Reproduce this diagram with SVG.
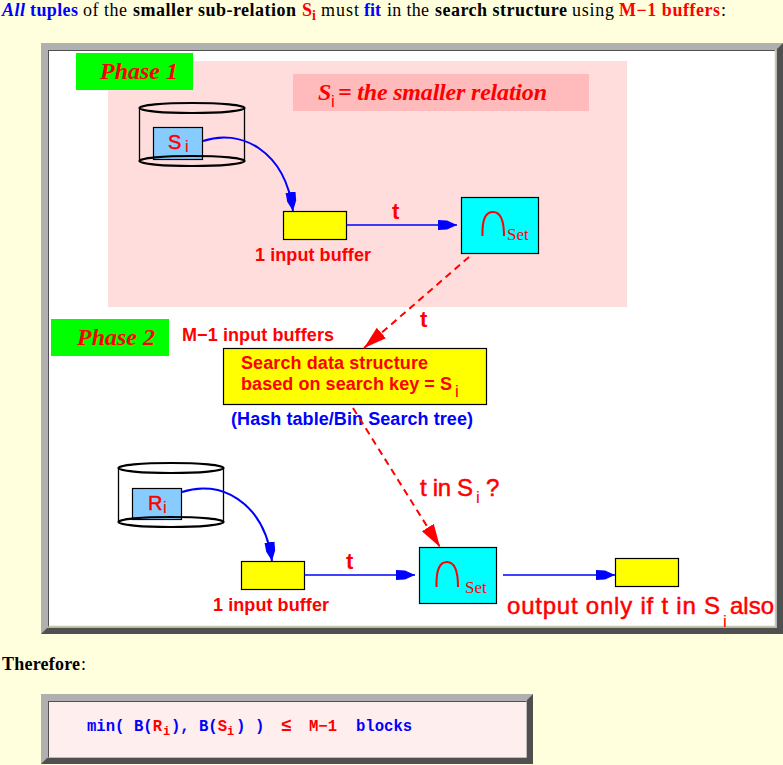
<svg xmlns="http://www.w3.org/2000/svg" width="783" height="765" viewBox="0 0 783 765">
<defs>
<marker id="ab" markerUnits="userSpaceOnUse" markerWidth="20" markerHeight="12" refX="19" refY="6" orient="auto"><path d="M0 1 L9 1.500 L19 6 L9 10.500 L0 11 Z" fill="#0000ff"/></marker>
<marker id="ar" markerUnits="userSpaceOnUse" markerWidth="24" markerHeight="16" refX="23" refY="8" orient="auto"><path d="M0 1 L23 8 L0 15 Z" fill="#ff0000"/></marker>
</defs>
<style>
text{font-family:"Liberation Sans",Arial,sans-serif;fill:#f00}
.t{font-family:"Liberation Serif","Times New Roman",serif;font-size:18px;fill:#000}
.b{font-weight:bold}
.blue{fill:#00f}.red{fill:#f00}
.lab{font-weight:bold;font-size:18px}
.big{font-size:24px;stroke:#f00;stroke-width:.5}
.sub{font-size:17px}
.ser{font-family:"Liberation Serif",serif;font-size:17px}
.ph{font-family:"Liberation Serif",serif;font-style:italic;font-weight:bold;font-size:24px}
.c{font-family:"Liberation Mono","Courier New",monospace;font-weight:bold;font-size:15.600px;fill:#00f}
.box{stroke:#000;stroke-width:1.2}
.cyl{fill:none;stroke:#000;stroke-width:1.3}
.cap{fill:none;stroke:#000;stroke-width:2.200}
.arc{fill:none;stroke:#f00;stroke-width:2}
.bl{fill:none;stroke:#00f;stroke-width:1.3}
.cv{fill:none;stroke:#00f;stroke-width:2}
.ds{fill:none;stroke:#f00;stroke-width:2;stroke-dasharray:7 5}
</style>
<rect width="783" height="765" fill="#ffffdd"/>
<g id="heading">
<text class="t b blue" x="2" y="16" font-style="italic" textLength="23">All</text>
<text class="t b blue" x="30" y="16" textLength="48">tuples</text>
<text class="t" x="83" y="16" textLength="44">of the</text>
<text class="t b" x="133" y="16" textLength="163">smaller sub-relation</text>
<text class="t b red" x="302" y="16">S</text><text class="t b red" x="312" y="20" style="font-size:14px">i</text>
<text class="t" x="321" y="16" textLength="38">must</text>
<text class="t b blue" x="364" y="16" textLength="17">fit</text>
<text class="t" x="387" y="16" textLength="42">in the</text>
<text class="t b" x="435" y="16" textLength="132">search structure</text>
<text class="t" x="572" y="16" textLength="42">using</text>
<text class="t b red" x="619" y="16" textLength="101">M−1 buffers</text>
<text class="t" x="721" y="16">:</text>
</g>
<g id="frame">
<polygon points="41,43 783,43 783,634 41,634" fill="#b0b0b0"/>
<polygon points="783,43 783,634 41,634 47,628 777,628 777,49" fill="#505050"/>
<rect x="48.500" y="50.500" width="727" height="576" fill="#fff" stroke="#505050"/>
<path d="M776 50.500H775.500V626.500H48.500" fill="none" stroke="#c8c8b0" stroke-width="1.500"/>
</g>
<g id="phase1-bg"><rect x="108" y="61" width="519" height="246" fill="#ffdddd"/></g>
<g id="phase1"><rect x="76" y="53" width="117" height="37" fill="#00ff00"/><text class="ph" x="100" y="79">Phase 1</text></g>
<g id="si-note"><rect x="293" y="74" width="296" height="37" fill="#ffbbbb"/><text class="ph" x="318" y="100">S</text><text class="sub" x="331" y="107">i</text><text class="ph" x="338" y="100" textLength="209">= the smaller relation</text></g>
<g id="cyl-s">
<path class="cyl" d="M139.500 108V161M244.500 108V161"/>
<rect x="153.500" y="127.500" width="49" height="32" fill="#88ccff" class="box"/>
<ellipse class="cap" cx="192" cy="108" rx="52.500" ry="5"/>
<ellipse class="cap" cx="192" cy="161" rx="52.500" ry="5"/>
<text class="big" x="168" y="149" style="font-size:20px">S</text><text class="sub" x="185" y="152">i</text>
</g>
<g id="buf1"><rect class="box" x="283.500" y="211.500" width="63" height="28" fill="#ffff00"/><text class="lab" x="255" y="261" textLength="116">1 input buffer</text></g>
<g id="set1"><rect class="box" x="461.500" y="197.500" width="77" height="56" fill="#00ffff"/><path class="arc" d="M482.500 236C482 218 486 212 493 212C500 212 504 218 504 236"/><text class="ser" x="507" y="240">Set</text></g>
<g id="search"><rect class="box" x="223.500" y="348.500" width="263" height="56" fill="#ffff00"/><text class="lab" x="241" y="369" textLength="187">Search data structure</text><text class="lab" x="241" y="390" textLength="211">based on search key = S</text><text class="sub" x="455" y="397">i</text></g>
<text class="lab blue" x="231" y="425" textLength="242">(Hash table/Bin Search tree)</text>
<g id="phase2"><rect x="51" y="319" width="118" height="37" fill="#00ff00"/><text class="ph" x="77" y="345">Phase 2</text></g>
<text class="lab" x="182" y="341" textLength="152">M−1 input buffers</text>
<g id="cyl-r">
<path class="cyl" d="M118.500 468V522M223.500 468V522"/>
<rect x="132.500" y="488.500" width="49" height="31" fill="#88ccff" class="box"/>
<ellipse class="cap" cx="171" cy="468" rx="52.500" ry="5"/>
<ellipse class="cap" cx="171" cy="522" rx="52.500" ry="5"/>
<text class="big" x="148" y="510" style="font-size:20px">R</text><text class="sub" x="163" y="513">i</text>
</g>
<g id="buf2"><rect class="box" x="241.500" y="561.500" width="63" height="28" fill="#ffff00"/><text class="lab" x="213" y="611" textLength="116">1 input buffer</text></g>
<g id="set2"><rect class="box" x="419.500" y="547.500" width="77" height="56" fill="#00ffff"/><path class="arc" d="M436.500 587C436 569 440 562 447 562C454 562 458 569 458 587"/><text class="ser" x="465" y="593">Set</text></g>
<g id="out"><rect class="box" x="615.500" y="558.500" width="63" height="28" fill="#ffff00"/></g>
<g id="connectors">
<path class="cv" marker-end="url(#ab)" d="M203 141C240 128 285 150 293 211"/>
<path class="bl" marker-end="url(#ab)" d="M346 225H457"/>
<path class="ds" marker-end="url(#ar)" d="M469 257L364 348"/>
<path class="ds" marker-end="url(#ar)" d="M353 408L440 547"/>
<path class="cv" marker-end="url(#ab)" d="M182 492C219 479 264 501 272 561"/>
<path class="bl" marker-end="url(#ab)" d="M304 575H415"/>
<path class="bl" marker-end="url(#ab)" d="M503 575H615"/>
</g>
<g id="labels">
<text class="lab" x="392" y="219" style="font-size:22px">t</text>
<text class="lab" x="420" y="327" style="font-size:22px">t</text>
<text class="lab" x="346" y="569" style="font-size:22px">t</text>
<text class="big" x="420" y="496" textLength="53">t in S</text><text class="sub" x="476" y="503">i</text><text class="big" x="486" y="496">?</text>
<text class="big" x="507" y="614" textLength="213">output only if t in S</text><text class="sub" x="723" y="627">i</text><text class="big" x="730" y="614" textLength="44">also</text>
</g>
<text class="t b" x="2" y="670" textLength="78">Therefore</text><text class="t" x="81" y="670">:</text>
<g id="formula">
<polygon points="41,694 533,694 533,764 41,764" fill="#b0b0b0"/>
<polygon points="533,694 533,764 41,764 47,758 527,758 527,700" fill="#505050"/>
<rect x="48.500" y="701.500" width="478" height="56" fill="#ffeeee" stroke="#505050"/>
<path d="M526.500 701.500V757.500H48.500" fill="none" stroke="#bbb"/>
<text class="c" y="731"><tspan x="87">min(</tspan><tspan x="134">B(</tspan><tspan class="red">R</tspan><tspan x="163" y="735" font-size="12" class="red">i</tspan><tspan x="171" y="731">),</tspan><tspan x="199">B(</tspan><tspan class="red">S</tspan><tspan x="227" y="735" font-size="12" class="red">i</tspan><tspan x="236" y="731">)</tspan><tspan x="255">)</tspan><tspan x="281" class="red" font-size="18">≤</tspan><tspan x="309" class="red">M−1</tspan><tspan x="356">blocks</tspan></text>
</g>
</svg>
